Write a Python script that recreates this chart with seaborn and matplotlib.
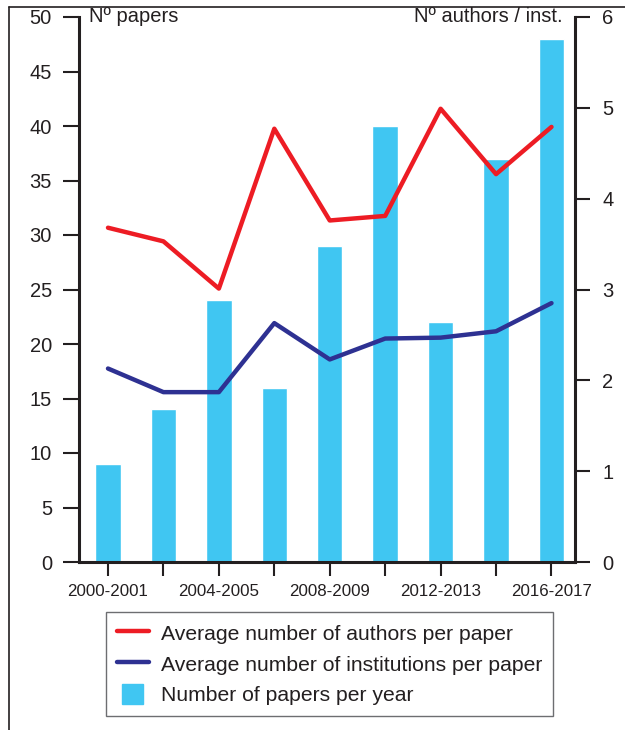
import numpy as np
import pandas as pd
import matplotlib
matplotlib.use("Agg")
import matplotlib.pyplot as plt
import matplotlib.patches as mpatches
from matplotlib.lines import Line2D
from matplotlib.legend_handler import HandlerPatch
import seaborn as sns

# data
periods = ["2000-2001", "2002-2003", "2004-2005", "2006-2007", "2008-2009",
           "2010-2011", "2012-2013", "2014-2015", "2016-2017"]
papers = [9, 14, 24, 16, 29, 40, 22, 37, 48]
authors = [3.68, 3.53, 3.01, 4.77, 3.76, 3.81, 4.99, 4.27, 4.79]
institutions = [2.13, 1.87, 1.87, 2.63, 2.23, 2.46, 2.47, 2.54, 2.85]
tick_labels = [p if i % 2 == 0 else "" for i, p in enumerate(periods)]

bar_color = "#40C6F2"
red = "#ED1C24"
blue = "#2E3192"
ink = "#231F20"

sns.set_style("ticks")
plt.rcParams["font.family"] = ["Liberation Sans", "DejaVu Sans"]

df = pd.DataFrame({"period": periods, "papers": papers,
                   "pos": np.arange(len(periods)),
                   "authors": authors, "institutions": institutions})

fig = plt.figure(figsize=(6.25, 7.3), dpi=100)
ax = fig.add_axes([79 / 625, 1 - 562 / 730, 496 / 625, 545 / 730])
ax2 = ax.twinx()

sns.barplot(data=df, x="period", y="papers", color=bar_color, width=0.46,
            saturation=1, ax=ax)
sns.lineplot(data=df, x="pos", y="authors", color=red, lw=3.2, ax=ax2,
             label="Average number of authors per paper")
sns.lineplot(data=df, x="pos", y="institutions", color=blue, lw=3.2, ax=ax2,
             label="Average number of institutions per paper")

ax.set_xlim(-0.523, 8.424)
ax.set_ylim(0, 50)
ax2.set_ylim(0, 6)
ax.set_yticks(range(0, 51, 5))
ax2.set_yticks(range(0, 7))
ax.set_xticks(range(len(periods)))
ax.set_xticklabels(tick_labels)
ax.set_xlabel("")
ax.set_ylabel("")
ax2.set_xlabel("")
ax2.set_ylabel("")
ax2.get_legend().remove()

for s in ["top", "right"]:
    ax.spines[s].set_visible(False)
for s in ["top", "left", "bottom"]:
    ax2.spines[s].set_visible(False)
for s in ["left", "bottom"]:
    ax.spines[s].set_linewidth(2.2)
    ax.spines[s].set_color(ink)
ax2.spines["right"].set_linewidth(2.2)
ax2.spines["right"].set_color(ink)

ax.tick_params(axis="y", length=11.5, width=1.5, pad=8, labelsize=14.5,
               colors=ink)
ax.tick_params(axis="x", length=10, width=1.5, pad=6, labelsize=12.2,
               colors=ink)
ax2.tick_params(axis="y", length=11, width=1.5, pad=8.5, labelsize=14.5,
                colors=ink)

ax.text(0.02, 0.9908, "Nº papers", transform=ax.transAxes, fontsize=14.5,
        color=ink, ha="left", va="baseline")
ax2.text(0.976, 0.9908, "Nº authors / inst.", transform=ax.transAxes,
         fontsize=14.5, color=ink, ha="right", va="baseline")


def square_patch(legend, orig_handle, xdescent, ydescent, width, height,
                 fontsize):
    side = height
    return mpatches.Rectangle((-xdescent + (width - side) / 2, -ydescent),
                              side, side)


h1, l1 = ax2.get_legend_handles_labels()
bar_handle = mpatches.Patch(color=bar_color)
leg = fig.legend(h1 + [bar_handle], l1 + ["Number of papers per year"],
                 loc="upper left", bbox_to_anchor=(106 / 625, 1 - 612 / 730),
                 borderaxespad=0, fontsize=15.2, frameon=True, fancybox=False,
                 edgecolor="#6D6E71", framealpha=1, borderpad=0.5,
                 handlelength=1.54, handleheight=1.15, handletextpad=0.55,
                 labelspacing=0.42,
                 handler_map={mpatches.Patch: HandlerPatch(patch_func=square_patch)})
leg.get_frame().set_linewidth(1.0)
for t in leg.get_texts():
    t.set_color(ink)

# partial frame of the original figure
fig.add_artist(Line2D([9 / 625, 9 / 625], [0, 1 - 7 / 730], color=ink, lw=1.2))
fig.add_artist(Line2D([9 / 625, 1], [1 - 7 / 730, 1 - 7 / 730], color=ink, lw=1.2))

fig.savefig("out.png", dpi=100)
